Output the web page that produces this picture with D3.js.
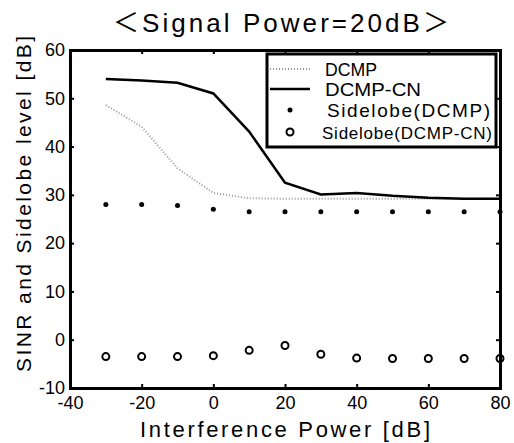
<!DOCTYPE html>
<html>
<head>
<meta charset="utf-8">
<script src="https://cdn.jsdelivr.net/npm/d3@7"></script>
<style>
  body { margin: 0; background: #fff; }
  text { font-family: "Liberation Sans", Arial, sans-serif; }
</style>
</head>
<body>
<script>
// size of the page
const w = 514;
const h = 443;
const m = {left: 70, right: 14, top: 50, bottom: 55};

// data
const power = [-30, -20, -10, 0, 10, 20, 30, 40, 50, 60, 70, 80];
const dcmp = [48.6, 44.1, 35.5, 30.4, 29.3, 29.2, 29.2, 29.2, 29.2, 29.2, 29.2, 29.2];
const dcmpCN = [54.0, 53.7, 53.2, 51.0, 43.1, 32.5, 30.1, 30.4, 29.8, 29.4, 29.2, 29.2];
const sideDCMP = [28.0, 28.0, 27.8, 27.0, 26.5, 26.5, 26.5, 26.5, 26.5, 26.5, 26.5, 26.5];
const sideCN = [-3.5, -3.5, -3.5, -3.3, -2.2, -1.2, -3.0, -3.8, -3.9, -3.9, -3.9, -3.9];
const xTicks = [-40, -20, 0, 20, 40, 60, 80];
const yTicks = [-10, 0, 10, 20, 30, 40, 50, 60];
const legendNames = ["DCMP", "DCMP-CN", "Sidelobe(DCMP)", "Sidelobe(DCMP-CN)"];

const svg = d3.select("body").append("svg")
  .attr("width", w)
  .attr("height", h);

const xScale = d3.scaleLinear().domain([-40, 80]).range([m.left, w - m.right]);
const yScale = d3.scaleLinear().domain([-10, 60]).range([h - m.bottom, m.top]);

// title (full width brackets from the CJK font)
const title = svg.append("text")
  .attr("x", 281)
  .attr("y", 32)
  .attr("text-anchor", "middle")
  .style("font-size", "26px")
  .attr("textLength", 336);
title.append("tspan").style("font-family", "'Noto Sans CJK JP'").text("＜");
title.append("tspan").text("Signal Power=20dB");
title.append("tspan").style("font-family", "'Noto Sans CJK JP'").text("＞");

// axes, ticks pointing inward
const fmt = d => String(d);
const gx = svg.append("g")
  .attr("transform", "translate(0," + (h - m.bottom) + ")")
  .call(d3.axisBottom(xScale).tickValues(xTicks).tickSize(-4).tickPadding(8).tickFormat(fmt));
const gxTop = svg.append("g")
  .attr("transform", "translate(0," + m.top + ")")
  .call(d3.axisTop(xScale).tickValues(xTicks).tickSize(-4).tickFormat(""));
const gy = svg.append("g")
  .attr("transform", "translate(" + m.left + ",0)")
  .call(d3.axisLeft(yScale).tickValues(yTicks).tickSize(-4).tickPadding(5).tickFormat(fmt));
const gyRight = svg.append("g")
  .attr("transform", "translate(" + (w - m.right) + ",0)")
  .call(d3.axisRight(yScale).tickValues(yTicks).tickSize(-4).tickFormat(""));

[gx, gxTop, gy, gyRight].forEach(function(g) {
  g.select(".domain").attr("stroke", "#000").attr("stroke-width", 3);
  g.selectAll(".tick line").attr("stroke", "#000").attr("stroke-width", 2);
  g.selectAll(".tick text").style("font-size", "18px").attr("fill", "#000");
});
gx.selectAll(".tick text").attr("dy", "0.71em");

// axis labels
svg.append("text")
  .attr("x", 285)
  .attr("y", 437)
  .attr("text-anchor", "middle")
  .style("font-size", "22px")
  .attr("textLength", 290)
  .text("Interference Power [dB]");

svg.append("text")
  .attr("transform", "translate(31," + 204 + ") rotate(-90)")
  .attr("text-anchor", "middle")
  .style("font-size", "21px")
  .attr("textLength", 336)
  .text("SINR and Sidelobe level [dB]");

// lines
const line = d3.line()
  .x((d, i) => xScale(power[i]))
  .y(d => yScale(d));

svg.append("path")
  .datum(dcmp)
  .attr("d", line)
  .attr("fill", "none")
  .attr("stroke", "#999")
  .attr("stroke-width", 2)
  .attr("stroke-dasharray", "1,2");

svg.append("path")
  .datum(dcmpCN)
  .attr("d", line)
  .attr("fill", "none")
  .attr("stroke", "#000")
  .attr("stroke-width", 2.5);

// sidelobe markers
svg.selectAll(".plus")
  .data(sideDCMP)
  .enter()
  .append("circle")
  .attr("class", "plus")
  .attr("cx", (d, i) => xScale(power[i]))
  .attr("cy", d => yScale(d))
  .attr("r", 2.5)
  .attr("fill", "#000");

svg.selectAll(".ring")
  .data(sideCN)
  .enter()
  .append("circle")
  .attr("class", "ring")
  .attr("cx", (d, i) => xScale(power[i]))
  .attr("cy", d => yScale(d))
  .attr("r", 3.5)
  .attr("fill", "none")
  .attr("stroke", "#000")
  .attr("stroke-width", 2);

// legend
const lg = svg.append("g").attr("transform", "translate(267,54)");
lg.append("rect")
  .attr("width", 229)
  .attr("height", 93)
  .attr("fill", "#fff")
  .attr("stroke", "#000")
  .attr("stroke-width", 3);

const rowY = [15, 35, 56, 78];
lg.append("line")
  .attr("x1", 3).attr("x2", 43).attr("y1", rowY[0]).attr("y2", rowY[0])
  .attr("stroke", "#999").attr("stroke-width", 2).attr("stroke-dasharray", "1,2");
lg.append("line")
  .attr("x1", 3).attr("x2", 43).attr("y1", rowY[1]).attr("y2", rowY[1])
  .attr("stroke", "#000").attr("stroke-width", 2.5);
lg.append("circle")
  .attr("cx", 23).attr("cy", rowY[2]).attr("r", 2.5).attr("fill", "#000");
lg.append("circle")
  .attr("cx", 23).attr("cy", rowY[3]).attr("r", 3.5)
  .attr("fill", "none").attr("stroke", "#000").attr("stroke-width", 2);

const legendX = [58, 58, 60, 55];
const legendLen = [52, 96, 163, 170];
const legendSize = [19, 19, 19, 17];
lg.selectAll(".lt")
  .data(legendNames)
  .enter()
  .append("text")
  .attr("class", "lt")
  .attr("x", (d, i) => legendX[i])
  .attr("y", (d, i) => rowY[i] + 7)
  .style("font-size", (d, i) => legendSize[i] + "px")
  .attr("textLength", (d, i) => legendLen[i])
  .attr("lengthAdjust", (d, i) => i < 2 ? "spacingAndGlyphs" : "spacing")
  .text(d => d);
</script>
</body>
</html>
